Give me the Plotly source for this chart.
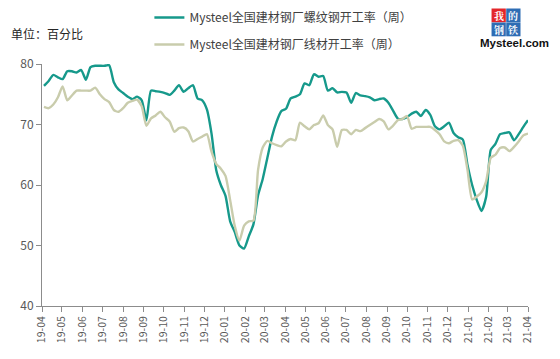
import pandas as pd
import plotly.graph_objects as go

start_date = "2019-04-04"
n_weeks = 105

rebar = [76.4, 77.2, 78.2, 77.8, 77.5, 78.8, 78.8, 78.6, 79.0, 77.4,
         79.5, 79.7, 79.7, 79.7, 79.8, 77.0, 75.8, 75.2, 74.6, 74.2,
         74.6, 74.0, 70.7, 75.6, 75.5, 75.4, 75.2, 74.9, 75.6, 76.5,
         75.4, 76.0, 76.5, 74.3, 74.0, 72.5, 68.5, 62.5, 60.0, 58.2,
         54.0, 52.2, 50.0, 49.5, 51.5, 53.5, 58.3, 61.0, 64.5, 68.0,
         70.5, 72.2, 72.6, 74.3, 74.6, 75.0, 76.8, 76.5, 78.3, 77.9,
         78.0, 75.6, 76.0, 75.3, 75.4, 75.3, 73.6, 75.2, 74.8, 74.7,
         74.5, 74.0, 74.2, 74.3, 73.6, 72.3, 71.0, 70.9, 71.2, 71.8,
         72.1, 71.4, 72.4, 71.6, 69.7, 69.2, 69.7, 70.3, 68.6, 67.9,
         67.5, 63.3, 60.0, 57.5, 55.7, 58.0, 65.8, 66.8, 68.4, 68.6,
         68.7, 67.4, 68.4, 69.6, 70.7]

wire = [72.9, 72.7, 73.3, 74.5, 76.3, 74.0, 74.8, 75.6, 75.6, 75.6,
        75.6, 76.1, 75.0, 74.2, 73.7, 72.4, 72.1, 72.7, 73.6, 73.9,
        74.1, 73.0, 69.8, 71.0, 71.5, 72.1, 71.2, 70.5, 68.8, 69.4,
        69.5, 68.9, 67.2, 67.6, 68.0, 68.4, 65.5, 63.5, 62.7, 61.5,
        57.5, 53.2, 50.8, 53.3, 54.0, 54.1, 62.5, 66.2, 67.3, 66.9,
        66.6, 66.4, 67.2, 67.6, 67.4, 70.3, 69.7, 69.2, 69.9, 70.2,
        71.5, 69.9, 69.2, 66.3, 69.1, 69.1, 68.4, 69.1, 68.9, 69.4,
        69.9, 70.4, 70.9, 70.5, 69.2, 69.8, 70.7, 70.9, 71.4, 69.3,
        69.6, 69.6, 69.6, 69.6, 69.1, 68.4, 67.2, 66.9, 67.3, 67.4,
        66.5, 62.5, 57.6, 58.1, 58.8, 60.6, 64.5, 65.0, 66.1, 66.2,
        65.6, 66.3, 67.2, 68.2, 68.5]

series_names = ["Mysteel全国建材钢厂螺纹钢开工率（周）", "Mysteel全国建材钢厂线材开工率（周）"]
unit_label = "单位：百分比"

dates = pd.date_range(start_date, periods=n_weeks, freq="7D")

TEAL = "#16998B"
BEIGE = "#C9CCAC"
FONT = "Noto Sans CJK SC"

# page has an 8px body margin; figure coords = window coords - 8
OFF = 8
W, H = 560, 359
L, T = 41.5 - OFF, 64 - OFF
R = W - (528 - OFF)
B = H - (306 - OFF)
pw, ph = W - L - R, H - T - B

def win2paper(x, y):
    fx, fy = x - OFF, y - OFF
    return (fx - L) / pw, (H - B - fy) / ph

fig = go.Figure()
fig.add_trace(go.Scatter(x=dates, y=rebar, mode="lines", name=series_names[0],
                         line=dict(color=TEAL, width=2.4, shape="spline", smoothing=0.6),
                         legendrank=1, legendgroup="a"))
fig.add_trace(go.Scatter(x=dates, y=wire, mode="lines", name=series_names[1],
                         line=dict(color=BEIGE, width=2.4, shape="spline", smoothing=0.6),
                         legendrank=2, legendgroup="b"))

lgx, lgy = win2paper(149, 3)

fig.update_layout(
    width=W, height=H,
    margin=dict(l=L, r=R, t=T, b=B, autoexpand=False),
    paper_bgcolor="white", plot_bgcolor="white",
    font=dict(family=FONT, color="#595959", size=12),
    showlegend=True,
    legend=dict(x=lgx, y=lgy, xanchor="left", yanchor="top",
                orientation="v", font=dict(size=12, color="#404040", family=FONT),
                tracegroupgap=8, itemwidth=30, bgcolor="rgba(0,0,0,0)",
                traceorder="grouped"),
    xaxis=dict(
        range=["2019-04-01", "2021-04-01"],
        tickmode="linear", tick0="2019-04-01", dtick="M1",
        tickformat="%y-%m", tickangle=-90, automargin=False,
        showgrid=False, zeroline=False,
        showline=True, linecolor="#8C8C8C", linewidth=1,
        ticks="outside", ticklen=5, tickcolor="#8C8C8C",
        tickfont=dict(size=10.5, color="#595959", family=FONT),
    ),
    yaxis=dict(
        range=[40, 80], tickmode="linear", tick0=40, dtick=10, automargin=False,
        showgrid=False, zeroline=False,
        showline=True, linecolor="#8C8C8C", linewidth=1,
        ticks="outside", ticklen=5, tickcolor="#8C8C8C",
        tickfont=dict(size=12, color="#595959", family=FONT),
    ),
)

# unit label
ux, uy = win2paper(8, 33)
fig.add_annotation(text=unit_label, xref="paper", yref="paper", x=ux, y=uy,
                   xanchor="left", yanchor="middle", showarrow=False,
                   font=dict(size=12, color="#262626", family=FONT))

# logo boxes (window coords)
logo_chars = [("我", "#E3262B", 491.5, 8.5), ("的", "#2E6DB4", 506.2, 8.5),
              ("钢", "#2E6DB4", 491.5, 22.5), ("铁", "#2E6DB4", 506.2, 22.5)]
for ch, col, x0, y0 in logo_chars:
    ax0, ay1 = win2paper(x0, y0)
    ax1, ay0 = win2paper(x0 + 14.3, y0 + 13.8)
    fig.add_shape(type="rect", xref="paper", yref="paper", x0=ax0, x1=ax1, y0=ay0, y1=ay1,
                  fillcolor=col, line=dict(width=0), layer="above")
    cx, cy = win2paper(x0 + 7.15, y0 + 6.8)
    fig.add_annotation(text="<b>" + ch + "</b>", xref="paper", yref="paper", x=cx, y=cy,
                       xanchor="center", yanchor="middle", showarrow=False,
                       borderpad=0, font=dict(size=10, color="white",
                                              family="Noto Serif CJK SC, Noto Sans CJK SC"))
mx, my = win2paper(514, 43.5)
fig.add_annotation(text="<b>Mysteel.com</b>", xref="paper", yref="paper", x=mx, y=my,
                   xanchor="center", yanchor="middle", showarrow=False, borderpad=0,
                   font=dict(size=11.5, color="#111111", family="Liberation Sans"))

fig.write_html("out.html")
